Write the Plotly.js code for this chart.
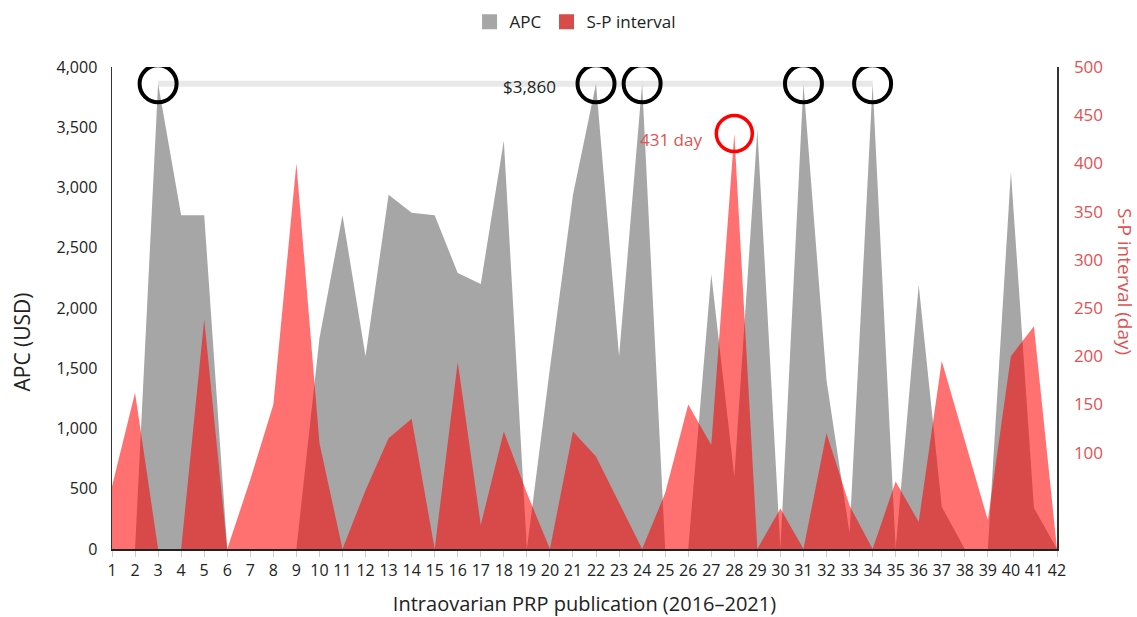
<!DOCTYPE html>
<html>
<head>
<meta charset="utf-8">
<script src="https://cdn.plot.ly/plotly-3.0.1.min.js"></script>
<style>html,body{margin:0;padding:0;background:#fff;}#chart{width:1137px;height:617px;}</style>
</head>
<body>
<div id="chart"></div>
<script>
// Publication index (categories)
const pubs = [1,2,3,4,5,6,7,8,9,10,11,12,13,14,15,16,17,18,19,20,21,22,23,24,25,26,27,28,29,30,31,32,33,34,35,36,37,38,39,40,41,42];
// Article processing charge (USD)
const apc = [0,0,3860,2770,2770,0,0,0,0,1750,2770,1600,2940,2790,2770,2290,2200,3390,0,1500,2940,3860,1600,3860,0,0,2280,600,3480,0,3860,1400,130,3860,0,2190,350,0,0,3130,340,0];
// Submission-to-publication interval (days)
const spInterval = [65,162,0,0,238,0,72,150,400,110,0,61,115,135,0,194,25,122,58,0,122,96,48,0,58,150,108,431,0,42,0,120,45,0,70,28,195,113,30,200,231,0];
// Tick values
const apcTicks = [0,500,1000,1500,2000,2500,3000,3500,4000];
const spTicks = [100,150,200,250,300,350,400,450,500];
const seriesNames = ['APC','S-P interval'];

const maxAPC = Math.max(...apc);
const maxSP = Math.max(...spInterval);
const peakX = pubs.filter((p,i) => apc[i] === maxAPC);
const peakY = peakX.map(() => maxAPC);
const spPeakX = pubs.filter((p,i) => spInterval[i] === maxSP);

const grey = '#a6a6a6';
const redText = '#e05252';

const traces = [
  { // reference line at max APC
    x: [peakX[0], peakX[peakX.length-1]], y: [maxAPC, maxAPC],
    type: 'scatter', mode: 'lines', line: {color: '#e8e8e8', width: 6},
    showlegend: false, hoverinfo: 'skip', xaxis: 'x', yaxis: 'y'
  },
  {
    x: pubs, y: apc, type: 'scatter', mode: 'lines', fill: 'tozeroy',
    fillcolor: grey, line: {width: 0, color: grey}, name: seriesNames[0],
    showlegend: false, xaxis: 'x', yaxis: 'y'
  },
  {
    x: peakX, y: peakY, type: 'scatter', mode: 'markers',
    marker: {symbol: 'circle-open', size: 37, color: '#000', line: {width: 4, color: '#000'}},
    showlegend: false, hoverinfo: 'skip', xaxis: 'x', yaxis: 'y'
  },
  {
    x: pubs, y: spInterval, type: 'scatter', mode: 'lines', fill: 'tozeroy',
    fillcolor: 'rgba(255,0,0,0.56)', line: {width: 0, color: 'rgba(255,0,0,0.56)'}, name: seriesNames[1],
    showlegend: false, xaxis: 'x', yaxis: 'y2'
  },
  {
    x: spPeakX, y: [maxSP], type: 'scatter', mode: 'markers',
    marker: {symbol: 'circle-open', size: 36, color: '#ff0000', line: {width: 3.5, color: '#ff0000'}},
    showlegend: false, hoverinfo: 'skip', xaxis: 'x', yaxis: 'y2'
  },
  // legend swatches
  { x: [null], y: [null], type: 'bar', name: seriesNames[0], marker: {color: grey, line: {color: grey, width: 3}}, showlegend: true, hoverinfo: 'skip' },
  { x: [null], y: [null], type: 'bar', name: seriesNames[1], marker: {color: '#d84b4b', line: {color: '#d84b4b', width: 3}}, showlegend: true, hoverinfo: 'skip' }
];

const layout = {
  width: 1137, height: 617,
  margin: {l: 112, r: 80, t: 67, b: 68, autoexpand: false},
  paper_bgcolor: '#fff', plot_bgcolor: '#fff',
  font: {family: 'Open Sans, sans-serif', size: 16, color: '#222'},
  showlegend: true,
  legend: {orientation: 'h', x: 0.49, xanchor: 'center', y: 1.093, yanchor: 'middle',
           font: {size: 17, color: '#222'}, itemwidth: 30, traceorder: 'normal', bgcolor: 'rgba(0,0,0,0)'},
  xaxis: {
    range: [1, 42], tickmode: 'array', tickvals: pubs, ticktext: pubs.map(String), tickangle: 0,
    ticks: 'outside', ticklen: 6, tickcolor: '#cccccc', tickwidth: 1,
    showline: true, linecolor: '#222', linewidth: 1.5, showgrid: false, zeroline: false,
    tickfont: {size: 16, color: '#222'}, automargin: false,
    title: {text: 'Intraovarian PRP publication (2016–2021)', font: {size: 20, color: '#222'}, standoff: 18}
  },
  yaxis: {
    range: [0, 4000], tickmode: 'array', tickvals: apcTicks, tickformat: ',',
    showline: true, linecolor: '#333', linewidth: 1.5, showgrid: false, zeroline: false,
    ticks: '', ticklabelstandoff: 10, tickfont: {size: 16, color: '#222'}, automargin: false
  },
  yaxis2: {
    overlaying: 'y', side: 'right', range: [0, 500], tickmode: 'array', tickvals: spTicks,
    showline: true, linecolor: '#333', linewidth: 1.5, showgrid: false, zeroline: false,
    ticks: '', ticklabelstandoff: 12, tickfont: {size: 17, color: redText}, automargin: false
  },
  annotations: [
    {x: peakX[1], y: maxAPC, xref: 'x', yref: 'y', text: '$3,860', showarrow: false,
     xanchor: 'right', yanchor: 'middle', xshift: -38, yshift: -3, font: {size: 17, color: '#222'}},
    {x: spPeakX[0], y: maxSP, xref: 'x', yref: 'y2', text: maxSP + ' day', showarrow: false,
     xanchor: 'right', yanchor: 'middle', xshift: -30, yshift: -6, font: {size: 17, color: redText}},
    // axis titles
    {xref: 'paper', yref: 'paper', x: -0.0955, y: 0.43, text: 'APC (USD)', textangle: -90, showarrow: false,
     xanchor: 'center', yanchor: 'middle', font: {size: 21, color: '#222'}},
    {xref: 'paper', yref: 'paper', x: 1.0715, y: 0.555, text: 'S-P interval (day)', textangle: 90, showarrow: false,
     xanchor: 'center', yanchor: 'middle', font: {size: 19, color: redText}}
  ]
};

Plotly.newPlot('chart', traces, layout, {displayModeBar: false, staticPlot: true});
</script>
</body>
</html>
